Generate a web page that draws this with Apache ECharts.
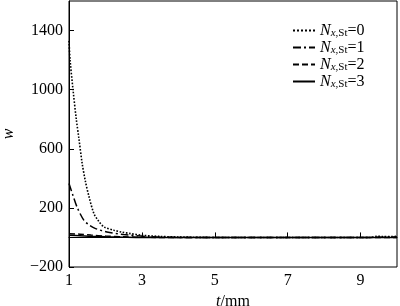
<!DOCTYPE html>
<html><head><meta charset="utf-8">
<script src="https://cdn.jsdelivr.net/npm/echarts@6/dist/echarts.min.js"></script>
<style>html,body{margin:0;padding:0;background:#fff}#c{width:400px;height:306px}</style>
</head><body><div id="c"></div>
<script>
const seriesNames = ['0', '1', '2', '3'];
const xTicks = [1, 3, 5, 7, 9];
const yTicks = [-200, 200, 600, 1000, 1400];

const t0 = [1, 1.03, 1.11, 1.2, 1.27, 1.36, 1.45, 1.55, 1.68, 1.8, 1.96, 2.23, 2.45, 2.69, 3.0, 3.5, 4, 5, 6, 7, 8, 9, 9.3, 9.45, 9.6, 10];
const w0 = [1330, 1200, 1000, 800, 673, 503, 380, 275, 164, 115, 71, 49, 36, 26, 15, 7, 3, 0, 0, 0, 0, 0, 0, 8, 6, 7];
const t1 = [1, 1.1, 1.23, 1.41, 1.55, 1.73, 2.04, 2.5, 3.2, 4, 5, 6, 7, 8, 9, 10];
const w1 = [365, 290, 200, 116, 85, 60, 37, 20, 5, 0, 0, 0, 0, 0, 0, 3];
const t2 = [1, 1.3, 1.6, 2, 2.5, 3, 4, 5, 6, 7, 8, 9, 10];
const w2 = [25, 22, 16, 9, 4, 1, 0, 0, 0, 0, 0, 0, 0];
const t3 = [1, 1.3, 1.6, 2, 2.5, 3, 4, 5, 6, 7, 8, 9, 10];
const w3 = [15, 12, 8, 5, 2, 0, 0, 0, 0, 0, 0, 0, 0];

const FONT = '"Liberation Serif", "Times New Roman", serif';
const dashes = ['dotted', [8, 3, 2, 3], [6, 3], 'solid'];
const tArr = [t0, t1, t2, t3];
const wArr = [w0, w1, w2, w3];

const fmt = v => String(v).replace('-', '\u2212');

const chart = echarts.init(document.getElementById('c'), null, {renderer: 'canvas'});
chart.setOption({
  animation: false,
  backgroundColor: '#fff',
  textStyle: {fontFamily: FONT, color: '#000'},
  grid: {left: 69, right: 3, top: 1, bottom: 39, show: true, borderColor: '#000', borderWidth: 1, containLabel: false, outerBoundsMode: 'none'},
  legend: {
    orient: 'vertical', left: 292, top: 22, itemWidth: 22, itemHeight: 14, itemGap: 0, padding: 0,
    data: seriesNames.map(n => 'N' + n),
    itemStyle: {opacity: 0},
    formatter: function (name) { return '{n|N}{sx|x}{s|,St}{e|=' + name.slice(1) + '}'; },
    textStyle: {
      fontFamily: FONT, color: '#000', lineHeight: 17,
      rich: {
        n: {fontFamily: FONT, fontSize: 16, lineHeight: 17, fontStyle: 'italic', color: '#000'},
        sx: {fontFamily: FONT, fontSize: 11, lineHeight: 17, verticalAlign: 'bottom', fontStyle: 'italic', color: '#000', padding: [3, 0, 0, 0]},
        s: {fontFamily: FONT, fontSize: 11, lineHeight: 17, verticalAlign: 'bottom', color: '#000', padding: [3, 0, 0, 0]},
        e: {fontFamily: FONT, fontSize: 16, lineHeight: 17, color: '#000'}
      }
    }
  },
  xAxis: {
    type: 'value', min: 1, max: 10, interval: 1,
    name: '{i|t}/mm', nameLocation: 'middle', nameGap: 25,
    nameTextStyle: {fontFamily: FONT, fontSize: 16, color: '#000', rich: {i: {fontFamily: FONT, fontSize: 16, fontStyle: 'italic', color: '#000'}}},
    axisLine: {lineStyle: {color: '#000', width: 1}},
    axisTick: {inside: true, length: 5, customValues: xTicks, lineStyle: {color: '#000'}},
    axisLabel: {customValues: xTicks, formatter: fmt, fontFamily: FONT, fontSize: 16, color: '#000', margin: 6},
    splitLine: {show: false}
  },
  yAxis: {
    type: 'value', min: -200, max: 1600, interval: 200,
    name: 'w', nameLocation: 'middle', nameGap: 52,
    nameTextStyle: {fontFamily: FONT, fontSize: 16, fontStyle: 'italic', color: '#000'},
    axisLine: {lineStyle: {color: '#000', width: 1}},
    axisTick: {inside: true, length: 5, customValues: yTicks, lineStyle: {color: '#000'}},
    axisLabel: {customValues: yTicks, formatter: fmt, fontFamily: FONT, fontSize: 16, color: '#000', margin: 6},
    splitLine: {show: false}
  },
  series: seriesNames.map((n, i) => ({
    name: 'N' + n, type: 'line', symbol: 'none', smooth: 0.3,
    data: tArr[i].map((t, j) => [t, wArr[i][j]]),
    lineStyle: {color: '#000', width: i === 0 ? 1.6 : 1.5, type: dashes[i]},
    itemStyle: {color: '#000'}
  }))
});
</script></body></html>
